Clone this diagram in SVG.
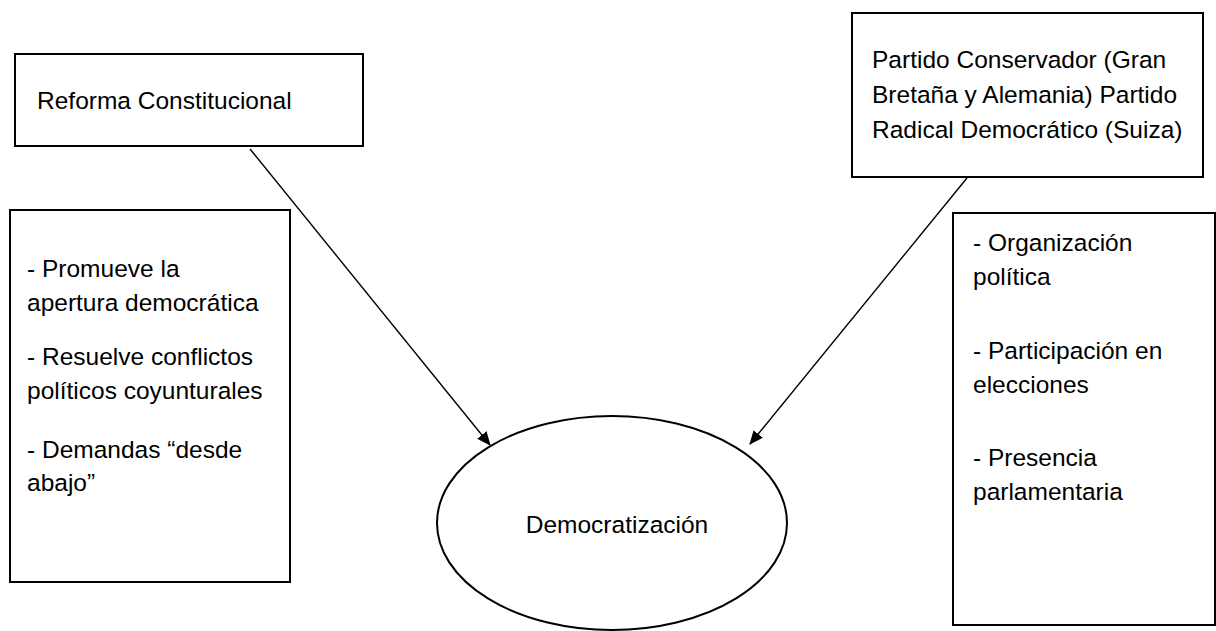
<svg xmlns="http://www.w3.org/2000/svg" width="1216" height="631" viewBox="0 0 1216 631">
  <style>
    .box { fill: #ffffff; stroke: #000000; stroke-width: 2; }
    .t { font-family: "Liberation Sans", Arial, sans-serif; font-size: 24.5px; fill: #000000; }
    .conn { stroke: #000000; stroke-width: 1.4; fill: none; marker-end: url(#arrow); }
  </style>
  <defs>
    <marker id="arrow" markerWidth="14" markerHeight="12" refX="13" refY="6" orient="auto" markerUnits="userSpaceOnUse">
      <path d="M0,0 L14,6 L0,12 Z" fill="#000000"/>
    </marker>
  </defs>
  <rect width="1216" height="631" fill="#ffffff"/>
  <g id="node-reforma">
    <rect class="box" x="15" y="54" width="348" height="92"/>
    <text class="t" x="37" y="109">Reforma Constitucional</text>
  </g>
  <g id="node-partido">
    <rect class="box" x="852" y="13" width="351" height="164"/>
    <text class="t" x="872" y="68">Partido Conservador (Gran</text>
    <text class="t" x="872" y="103">Bretaña y Alemania) Partido</text>
    <text class="t" x="872" y="138">Radical Democrático (Suiza)</text>
  </g>
  <g id="node-reforma-notes">
    <rect class="box" x="10" y="210" width="280" height="372"/>
    <text class="t" x="27" y="277">- Promueve la</text>
    <text class="t" x="27" y="311">apertura democrática</text>
    <text class="t" x="27" y="365">- Resuelve conflictos</text>
    <text class="t" x="27" y="399">políticos coyunturales</text>
    <text class="t" x="27" y="458">- Demandas “desde</text>
    <text class="t" x="27" y="491">abajo”</text>
  </g>
  <g id="node-partido-notes">
    <rect class="box" x="953" y="213" width="262" height="412"/>
    <text class="t" x="973" y="251">- Organización</text>
    <text class="t" x="973" y="285">política</text>
    <text class="t" x="973" y="359">- Participación en</text>
    <text class="t" x="973" y="393">elecciones</text>
    <text class="t" x="973" y="466">- Presencia</text>
    <text class="t" x="973" y="500">parlamentaria</text>
  </g>
  <g id="node-democratizacion">
    <ellipse class="box" cx="612" cy="523" rx="175" ry="107"/>
    <text class="t" x="617" y="533" text-anchor="middle">Democratización</text>
  </g>
  <g id="connectors">
    <line class="conn" x1="250" y1="149" x2="490" y2="445"/>
    <line class="conn" x1="967" y1="178" x2="750" y2="444"/>
  </g>
</svg>
